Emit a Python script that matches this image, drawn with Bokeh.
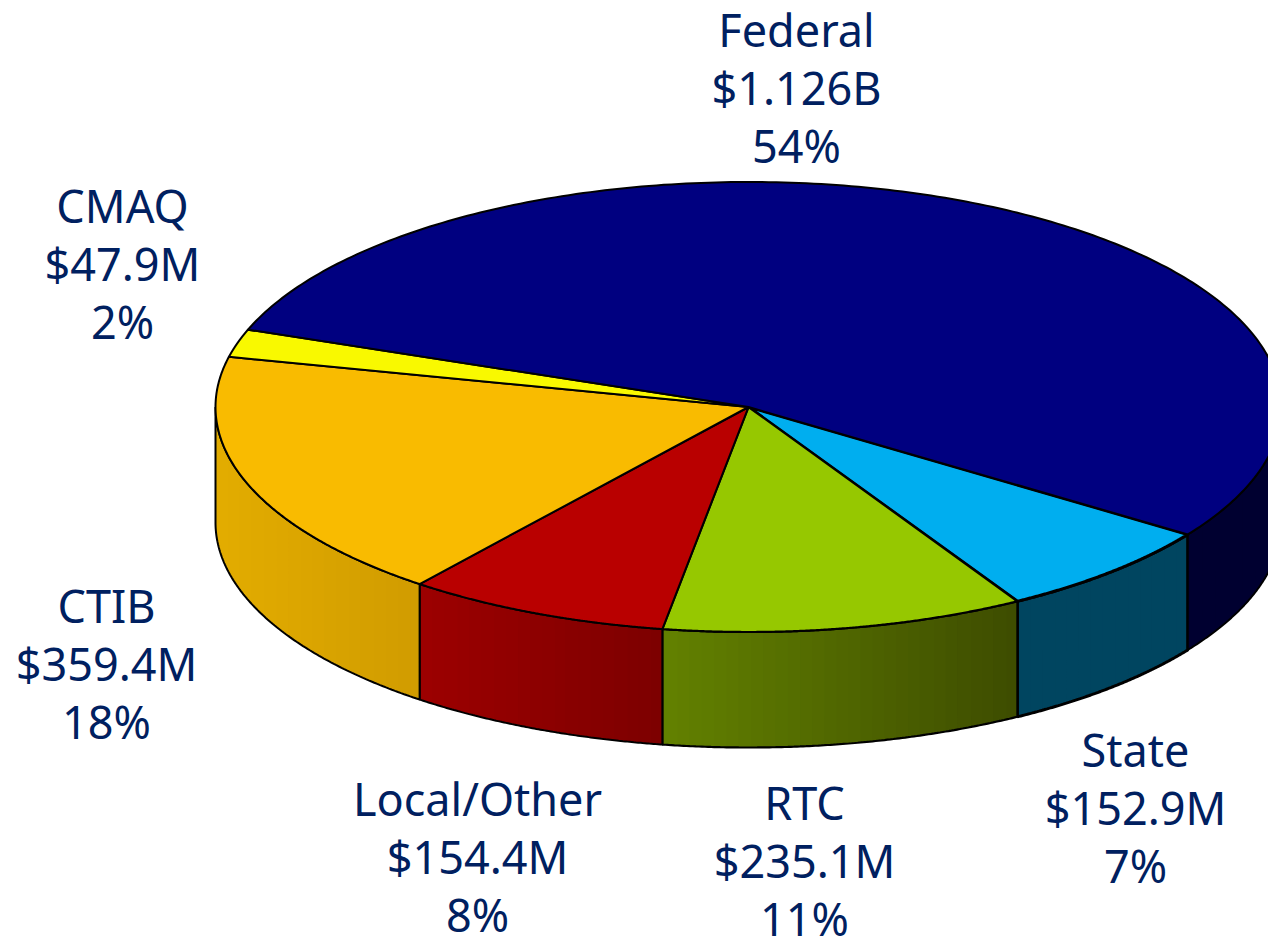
import math
from bokeh.plotting import figure
from bokeh.models import Range1d
from bokeh.core.properties import value
from bokeh.embed import file_html
from bokeh.resources import INLINE

# ---- data, clockwise from the Federal/State edge going round
names = ["State", "RTC", "Local/Other", "CTIB", "CMAQ", "Federal"]
money_labels = ["$152.9M", "$235.1M", "$154.4M", "$359.4M", "$47.9M", "$1.126B"]
percents = [7, 11, 8, 18, 2, 54]
pct_labels = ["7%", "11%", "8%", "18%", "2%", "54%"]
top_colors = ["#00AEEF", "#96C800", "#B90000", "#F9BB00", "#F9F900", "#000080"]
side_left = [(0, 69, 96), (98, 128, 0), (156, 0, 0), (226, 172, 0), (226, 226, 0), (0, 0, 48)]
side_right = [(0, 69, 96), (62, 77, 0), (125, 0, 0), (209, 156, 0), (226, 226, 0), (0, 0, 48)]
edge_widths = [3.0, 2.2, 2.0, 2.0, 2.0, 2.0]

# ---- layout
W, H = 1268, 949
CX, CY, RX, RY, DEPTH = 748.0, 406.5, 533.0, 225.0, 115.5
START = -34.5
INK = "#002060"
FONT = "Noto Sans"
FS = "45px"
label_x = [1135, 804, 477, 106, 122, 796]
label_y = [749, 802, 798, 605, 205, 29]
LINE = 58.0

p = figure(width=W, height=H, output_backend="svg", toolbar_location=None,
           x_range=Range1d(0, W), y_range=Range1d(H, 0),
           min_border=0, outline_line_color=None, background_fill_color="white",
           border_fill_color="white")
p.axis.visible = False
p.grid.visible = False


def pt(deg, dy=0.0):
    a = math.radians(deg)
    return CX + RX * math.cos(a), CY - RY * math.sin(a) + dy


def arc_deg(a0, a1, n):
    return [a0 + (a1 - a0) * i / n for i in range(n + 1)]


total = sum(percents)
spans = []
a = START
for v in percents:
    b = a - 360.0 * v / total
    spans.append((a, b))
    a = b

# side walls: only the front half shows
for i, (a0, b0) in enumerate(spans):
    for off in (0, -360):
        lo, hi = max(b0, -180 + off), min(a0, off)
        if lo >= hi:
            continue
        xmin, xmax = pt(lo)[0], pt(hi)[0]
        bands = max(2, int((xmax - xmin) / 12))
        dd = arc_deg(lo, hi, 120)
        for j in range(bands):
            # each band runs to the wall's right end, the next one paints over it
            x_start = xmin + (xmax - xmin) * j / bands
            kept = [d for d in dd if pt(d)[0] >= x_start]
            c = tuple(round(side_left[i][k] + (side_right[i][k] - side_left[i][k]) * j / max(1, bands - 1)) for k in range(3))
            col = "#%02x%02x%02x" % c
            xs = [pt(d)[0] for d in kept] + [pt(d, DEPTH)[0] for d in reversed(kept)]
            ys = [pt(d)[1] for d in kept] + [pt(d, DEPTH)[1] for d in reversed(kept)]
            p.patch(xs, ys, fill_color=col, line_color=None)
        xs = [pt(d)[0] for d in dd] + [pt(d, DEPTH)[0] for d in reversed(dd)]
        ys = [pt(d)[1] for d in dd] + [pt(d, DEPTH)[1] for d in reversed(dd)]
        p.patch(xs + xs[:1], ys + ys[:1], fill_color=None, line_color="black", line_width=edge_widths[i])

# top slices
for i, (a0, b0) in enumerate(spans):
    dd = arc_deg(b0, a0, 240)
    xs = [CX] + [pt(d)[0] for d in dd]
    ys = [CY] + [pt(d)[1] for d in dd]
    p.patch(xs, ys, fill_color=top_colors[i], line_color="black", line_width=edge_widths[i], line_join="round")

# labels
for i in range(len(names)):
    for j, t in enumerate((names[i], money_labels[i], pct_labels[i])):
        p.text([label_x[i]], [label_y[i] + j * LINE], text=[t], text_align="center",
               text_baseline="alphabetic", text_color=INK, text_font=value(FONT), text_font_size=FS)

open("out.html", "w").write(file_html(p, INLINE))
